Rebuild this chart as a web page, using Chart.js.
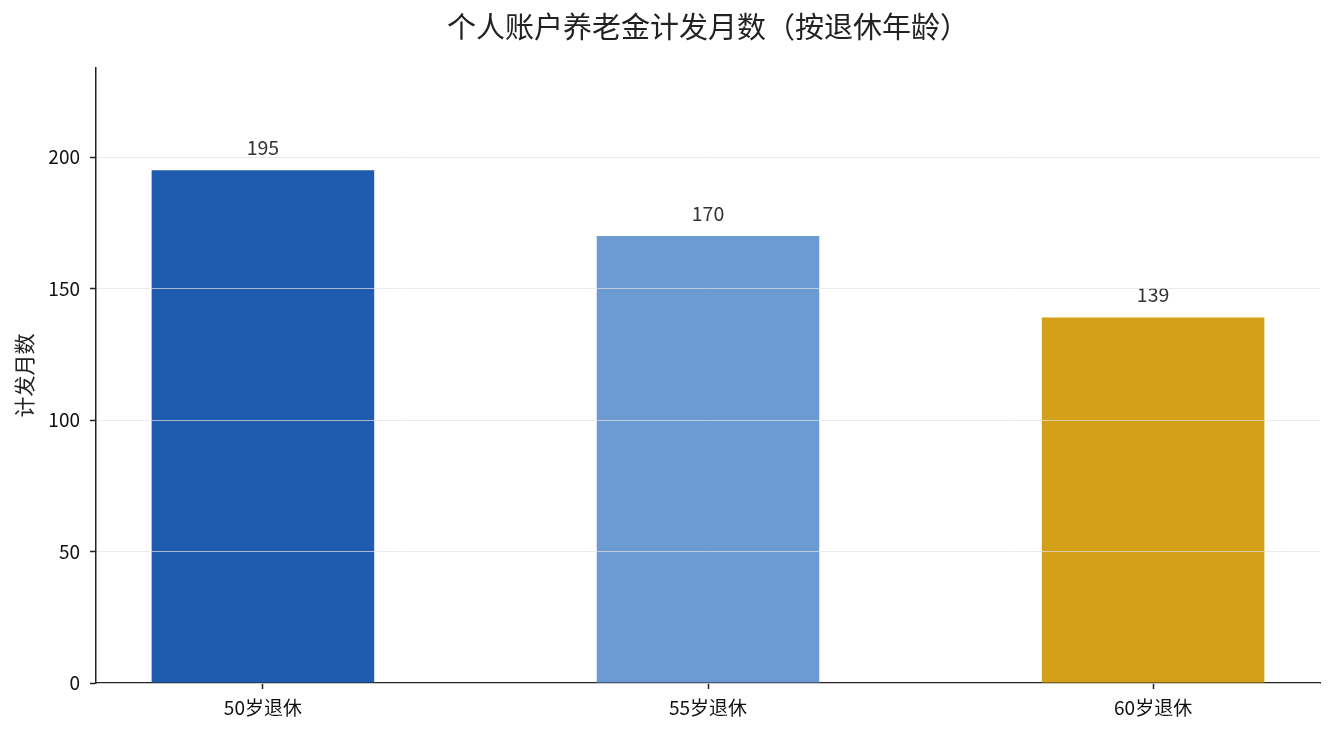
<!DOCTYPE html>
<html>
<head>
<meta charset="utf-8">
<script src="https://cdn.jsdelivr.net/npm/chart.js@4"></script>
<style>
    html, body { margin: 0; padding: 0; background: #fff; }
    #wrap { position: relative; width: 1335px; height: 735px; }
</style>
</head>
<body>
<div id="wrap"><canvas id="pensionChart"></canvas></div>
<script>
// chart data
const categories = ['50岁退休', '55岁退休', '60岁退休'];
const months = [195, 170, 139];
const barColors = ['#1f5bae', '#6b9bd2', '#d4a01a'];
const yTicks = [0, 50, 100, 150, 200];

const FONT = "'Noto Sans CJK SC', 'Noto Sans', sans-serif";

// value label above each bar
const valueLabels = {
    id: 'valueLabels',
    afterDatasetsDraw(chart) {
        const ctx = chart.ctx;
        const meta = chart.getDatasetMeta(0);
        ctx.save();
        ctx.font = '19.5px ' + FONT;
        ctx.fillStyle = '#333333';
        ctx.textAlign = 'center';
        ctx.textBaseline = 'bottom';
        meta.data.forEach((bar, i) => {
            ctx.fillText(String(months[i]), bar.x, bar.y - 13);
        });
        ctx.restore();
    }
};

new Chart(document.getElementById('pensionChart').getContext('2d'), {
    type: 'bar',
    data: {
        datasets: [{
            data: months.map((v, i) => ({ x: i, y: v })),
            backgroundColor: barColors,
            borderWidth: 0,
            barPercentage: 0.5,
            categoryPercentage: 1.0,
        }]
    },
    options: {
        responsive: true,
        maintainAspectRatio: false,
        animation: false,
        layout: { padding: { right: 15, left: 0, top: 0, bottom: 0 } },
        plugins: {
            legend: { display: false },
            tooltip: { enabled: false },
            title: {
                display: true,
                text: '个人账户养老金计发月数（按退休年龄）',
                fullSize: false,
                color: '#222222',
                font: { family: FONT, size: 29, weight: 'normal' },
                padding: { top: 10, bottom: 23 },
            },
        },
        scales: {
            x: {
                type: 'linear',
                offset: false,
                min: -0.375,
                max: 2.375,
                afterBuildTicks: (scale) => {
                    scale.ticks = categories.map((c, i) => ({ value: i }));
                },
                afterFit: (scale) => { scale.height = 52; },
                ticks: {
                    callback: (v) => categories[v],
                    color: '#111111',
                    font: { family: FONT, size: 19 },
                    padding: 7,
                },
                grid: {
                    display: true,
                    offset: false,
                    drawOnChartArea: false,
                    drawTicks: true,
                    tickLength: 6,
                    tickColor: '#222222',
                    tickWidth: 1.5,
                },
                border: { display: true, color: '#222222', width: 1.5 },
            },
            y: {
                min: 0,
                max: 234,
                afterBuildTicks: (scale) => {
                    scale.ticks = yTicks.map(v => ({ value: v }));
                },
                afterFit: (scale) => { scale.width = 96; },
                ticks: {
                    color: '#111111',
                    font: { family: FONT, size: 19 },
                    padding: 10,
                },
                grid: {
                    z: 1,
                    color: 'rgba(225, 225, 225, 0.7)',
                    lineWidth: 1,
                    tickLength: 6,
                    tickColor: '#222222',
                    tickWidth: 1.5,
                },
                border: { display: true, color: '#222222', width: 1.5, z: 2 },
                title: {
                    display: true,
                    text: '计发月数',
                    color: '#222222',
                    font: { family: FONT, size: 21 },
                    padding: { top: 11, bottom: 0 },
                },
            },
        },
    },
    plugins: [valueLabels],
});
</script>
</body>
</html>
